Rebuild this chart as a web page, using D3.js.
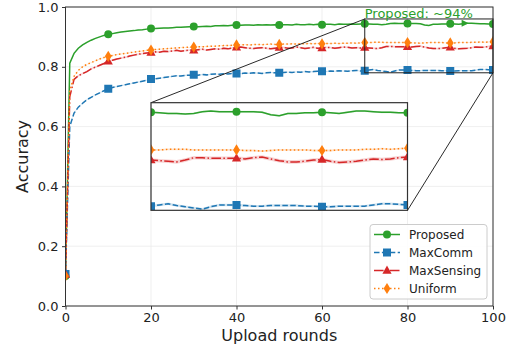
<!DOCTYPE html>
<html>
<head>
<meta charset="utf-8">
<script src="https://cdn.jsdelivr.net/npm/d3@7"></script>
<style>
  body { margin: 0; background: #fff; }
  text { font-family: "DejaVu Sans", sans-serif; }
</style>
</head>
<body>
<script>
'use strict';

// accuracy per upload round (0..100)
const rounds = d3.range(0, 101);

const proposed = [
  0.100, 0.812, 0.845, 0.862, 0.873, 0.882, 0.889, 0.895, 0.900, 0.905,
  0.909, 0.911, 0.914, 0.916, 0.918, 0.920, 0.921, 0.923, 0.924, 0.926,
  0.928, 0.928, 0.929, 0.930, 0.930, 0.931, 0.932, 0.932, 0.933, 0.934,
  0.935, 0.934, 0.935, 0.936, 0.935, 0.937, 0.937, 0.938, 0.937, 0.939,
  0.940, 0.939, 0.940, 0.940, 0.939, 0.941, 0.940, 0.941, 0.940, 0.941,
  0.940, 0.941, 0.941, 0.940, 0.942, 0.941, 0.941, 0.942, 0.941, 0.942,
  0.941, 0.942, 0.942, 0.941, 0.943, 0.942, 0.942, 0.943, 0.942, 0.943,
  0.944, 0.943, 0.942, 0.942, 0.941, 0.942, 0.945, 0.946, 0.945, 0.945,
  0.945, 0.945, 0.945, 0.944, 0.940, 0.938, 0.942, 0.942, 0.943, 0.943,
  0.944, 0.943, 0.942, 0.944, 0.946, 0.946, 0.945, 0.944, 0.944, 0.943,
  0.943
];

const maxComm = [
  0.107, 0.600, 0.645, 0.665, 0.678, 0.690, 0.698, 0.706, 0.713, 0.720,
  0.727, 0.731, 0.734, 0.737, 0.740, 0.743, 0.746, 0.749, 0.752, 0.755,
  0.759, 0.760, 0.762, 0.764, 0.766, 0.768, 0.770, 0.769, 0.771, 0.772,
  0.773, 0.772, 0.774, 0.773, 0.775, 0.776, 0.775, 0.777, 0.776, 0.778,
  0.778, 0.777, 0.779, 0.778, 0.780, 0.779, 0.778, 0.780, 0.781, 0.780,
  0.780, 0.781, 0.782, 0.781, 0.783, 0.782, 0.784, 0.783, 0.784, 0.785,
  0.785, 0.784, 0.786, 0.785, 0.787, 0.786, 0.785, 0.787, 0.788, 0.786,
  0.787, 0.789, 0.791, 0.788, 0.786, 0.784, 0.782, 0.786, 0.789, 0.789,
  0.789, 0.788, 0.787, 0.787, 0.788, 0.788, 0.788, 0.788, 0.787, 0.787,
  0.786, 0.786, 0.787, 0.787, 0.787, 0.787, 0.789, 0.791, 0.791, 0.790,
  0.789
];

const maxSensing = [
  0.105, 0.700, 0.758, 0.770, 0.777, 0.784, 0.793, 0.799, 0.805, 0.811,
  0.818, 0.822, 0.826, 0.829, 0.832, 0.836, 0.839, 0.842, 0.844, 0.846,
  0.848, 0.850, 0.849, 0.852, 0.851, 0.853, 0.855, 0.852, 0.854, 0.856,
  0.855, 0.857, 0.859, 0.856, 0.858, 0.860, 0.859, 0.862, 0.860, 0.863,
  0.865, 0.866, 0.864, 0.862, 0.861, 0.863, 0.864, 0.862, 0.860, 0.862,
  0.864, 0.865, 0.862, 0.863, 0.866, 0.864, 0.861, 0.863, 0.865, 0.862,
  0.863, 0.865, 0.864, 0.862, 0.864, 0.866, 0.865, 0.863, 0.864, 0.863,
  0.864, 0.863, 0.862, 0.861, 0.864, 0.868, 0.868, 0.867, 0.867, 0.867,
  0.867, 0.866, 0.868, 0.869, 0.866, 0.863, 0.861, 0.861, 0.862, 0.864,
  0.865, 0.862, 0.860, 0.861, 0.862, 0.864, 0.866, 0.865, 0.866, 0.868,
  0.869
];

const uniform = [
  0.100, 0.720, 0.768, 0.788, 0.800, 0.808, 0.814, 0.820, 0.826, 0.831,
  0.835, 0.838, 0.841, 0.843, 0.845, 0.847, 0.849, 0.851, 0.853, 0.855,
  0.856, 0.858, 0.859, 0.860, 0.861, 0.862, 0.863, 0.864, 0.865, 0.865,
  0.866, 0.867, 0.867, 0.868, 0.869, 0.869, 0.870, 0.871, 0.871, 0.872,
  0.873, 0.873, 0.874, 0.873, 0.874, 0.875, 0.874, 0.875, 0.876, 0.875,
  0.875, 0.876, 0.876, 0.877, 0.876, 0.877, 0.877, 0.878, 0.877, 0.878,
  0.877, 0.878, 0.878, 0.879, 0.878, 0.879, 0.879, 0.880, 0.879, 0.880,
  0.881, 0.881, 0.882, 0.882, 0.882, 0.881, 0.881, 0.881, 0.881, 0.881,
  0.881, 0.880, 0.880, 0.879, 0.880, 0.881, 0.881, 0.881, 0.881, 0.880,
  0.880, 0.880, 0.881, 0.881, 0.881, 0.882, 0.882, 0.883, 0.882, 0.883,
  0.884
];

// half width of the shaded spread around each curve
const proposedSpread = 0.0015;
const maxCommSpread = 0.002;
const maxSensingSpread = 0.003;
const uniformSpread = 0.0015;

const xTicks = [0, 20, 40, 60, 80, 100];
const yTicks = [0.0, 0.2, 0.4, 0.6, 0.8, 1.0];
const seriesNames = ["Proposed", "MaxComm", "MaxSensing", "Uniform"];
const annotationText = "Proposed: ~94%";

const series = [
  { name: seriesNames[0], values: proposed, spread: proposedSpread, color: "#2ca02c", dash: null, marker: "circle" },
  { name: seriesNames[1], values: maxComm, spread: maxCommSpread, color: "#1f77b4", dash: "5.5,2.4", marker: "square" },
  { name: seriesNames[2], values: maxSensing, spread: maxSensingSpread, color: "#d62728", dash: "9.6,2.4,1.5,2.4", marker: "triangle" },
  { name: seriesNames[3], values: uniform, spread: uniformSpread, color: "#ff7f0e", dash: "1.5,2.5", marker: "diamond" }
];

const width = 511, height = 353;
const plot = { left: 65.5, right: 493, top: 7, bottom: 306 };

const svg = d3.select("body").append("svg")
  .attr("width", width)
  .attr("height", height);

const x = d3.scaleLinear().domain([0, 100]).range([plot.left, plot.right]);
const y = d3.scaleLinear().domain([0, 1]).range([plot.bottom, plot.top]);

// marker shapes
function markerPath(kind) {
  if (kind === "circle") return d3.symbol(d3.symbolCircle, 50)();
  if (kind === "square") return "M-4,-4H4V4H-4Z";
  if (kind === "triangle") return "M0,-5L4.6,3.2L-4.6,3.2Z";
  return "M0,-5.6L3.4,0L0,5.6L-3.4,0Z";
}

const defs = svg.append("defs");
defs.append("clipPath").attr("id", "clip-main")
  .append("rect")
  .attr("x", plot.left).attr("y", plot.top)
  .attr("width", plot.right - plot.left).attr("height", plot.bottom - plot.top);

// grid
const grid = svg.append("g");
grid.selectAll(".gx").data(xTicks).enter().append("line")
  .attr("x1", d => x(d)).attr("x2", d => x(d))
  .attr("y1", plot.top).attr("y2", plot.bottom)
  .attr("stroke", "#ebebeb").attr("stroke-width", 0.8);
grid.selectAll(".gy").data(yTicks).enter().append("line")
  .attr("x1", plot.left).attr("x2", plot.right)
  .attr("y1", d => y(d)).attr("y2", d => y(d))
  .attr("stroke", "#ebebeb").attr("stroke-width", 0.8);

// draw the curves of all series into a group with the given scales
function drawSeries(g, xs, ys, markRounds) {
  series.forEach(s => {
    const pts = rounds.map((r, i) => ({ r: r, v: s.values[i] }));
    const area = d3.area()
      .x(d => xs(d.r))
      .y0(d => ys(d.v - s.spread))
      .y1(d => ys(d.v + s.spread));
    g.append("path").datum(pts)
      .attr("d", area)
      .attr("fill", s.color)
      .attr("fill-opacity", 0.2);
    const line = d3.line().x(d => xs(d.r)).y(d => ys(d.v));
    g.append("path").datum(pts)
      .attr("d", line)
      .attr("fill", "none")
      .attr("stroke", s.color)
      .attr("stroke-width", 1.5)
      .attr("stroke-dasharray", s.dash);
  });
  series.forEach(s => {
    g.selectAll(null)
      .data(markRounds)
      .enter()
      .append("path")
      .attr("d", markerPath(s.marker))
      .attr("transform", r => "translate(" + xs(r) + "," + ys(s.values[r]) + ")")
      .attr("fill", s.color);
  });
}

const main = svg.append("g").attr("clip-path", "url(#clip-main)");
drawSeries(main, x, y, d3.range(0, 101, 10));

// axes
const xAxis = d3.axisBottom(x).tickValues(xTicks).tickSize(3.5).tickPadding(3.5).tickFormat(d3.format("d"));
const yAxis = d3.axisLeft(y).tickValues(yTicks).tickSize(3.5).tickPadding(3.5).tickFormat(d3.format(".1f"));

svg.append("g")
  .attr("transform", "translate(0," + plot.bottom + ")")
  .call(xAxis)
  .call(g => g.select(".domain").remove())
  .call(g => g.selectAll("text").attr("font-size", 13).attr("fill", "#222").style("font-family", "DejaVu Sans"))
  .call(g => g.selectAll("line").attr("stroke", "#333"));

svg.append("g")
  .attr("transform", "translate(" + plot.left + ",0)")
  .call(yAxis)
  .call(g => g.select(".domain").remove())
  .call(g => g.selectAll("text").attr("font-size", 13).attr("fill", "#222").style("font-family", "DejaVu Sans"))
  .call(g => g.selectAll("line").attr("stroke", "#333"));

svg.append("rect")
  .attr("x", plot.left).attr("y", plot.top)
  .attr("width", plot.right - plot.left).attr("height", plot.bottom - plot.top)
  .attr("fill", "none").attr("stroke", "#333").attr("stroke-width", 1);

svg.append("text")
  .attr("x", (plot.left + plot.right) / 2)
  .attr("y", 341)
  .attr("text-anchor", "middle")
  .attr("font-size", 16)
  .attr("fill", "#222")
  .text("Upload rounds");

svg.append("text")
  .attr("transform", "translate(28," + ((plot.top + plot.bottom) / 2) + ") rotate(-90)")
  .attr("text-anchor", "middle")
  .attr("font-size", 16)
  .attr("fill", "#222")
  .text("Accuracy");

// zoomed inset
const zoomX = [70, 100], zoomY = [0.78, 0.96];
const inset = { left: x(20), right: x(80), top: y(0.68), bottom: y(0.32) };
const xi = d3.scaleLinear().domain(zoomX).range([inset.left, inset.right]);
const yi = d3.scaleLinear().domain(zoomY).range([inset.bottom, inset.top]);

defs.append("clipPath").attr("id", "clip-inset")
  .append("rect")
  .attr("x", inset.left).attr("y", inset.top)
  .attr("width", inset.right - inset.left).attr("height", inset.bottom - inset.top);

// region marked on the main axes and connector lines
svg.append("rect")
  .attr("x", x(zoomX[0])).attr("y", y(zoomY[1]))
  .attr("width", x(zoomX[1]) - x(zoomX[0])).attr("height", y(zoomY[0]) - y(zoomY[1]))
  .attr("fill", "none").attr("stroke", "#222").attr("stroke-width", 1);
svg.append("line")
  .attr("x1", inset.left).attr("y1", inset.top)
  .attr("x2", x(zoomX[0])).attr("y2", y(zoomY[1]))
  .attr("stroke", "#111").attr("stroke-width", 0.9);
svg.append("line")
  .attr("x1", inset.right).attr("y1", inset.bottom)
  .attr("x2", x(zoomX[1])).attr("y2", y(zoomY[0]))
  .attr("stroke", "#111").attr("stroke-width", 0.9);

const insetG = svg.append("g").attr("clip-path", "url(#clip-inset)");
drawSeries(insetG, xi, yi, [70, 80, 90, 100]);
svg.append("rect")
  .attr("x", inset.left).attr("y", inset.top)
  .attr("width", inset.right - inset.left).attr("height", inset.bottom - inset.top)
  .attr("fill", "none").attr("stroke", "#333").attr("stroke-width", 1.2);

// annotation
svg.append("text")
  .attr("x", x(70))
  .attr("y", 18)
  .attr("font-size", 13)
  .attr("fill", "#2ca02c")
  .text(annotationText);
const tipX = x(94.3), tipY = y(proposed[94]);
svg.append("path")
  .attr("d", "M" + tipX + "," + tipY + "l-7,-3.5v7Z")
  .attr("fill", "#2ca02c");

// legend
const legend = svg.append("g");
legend.append("rect")
  .attr("x", 370).attr("y", 224.5)
  .attr("width", 117).attr("height", 74.5)
  .attr("rx", 3)
  .attr("fill", "#fff").attr("fill-opacity", 0.85)
  .attr("stroke", "#ccc").attr("stroke-width", 1);

const rows = legend.selectAll(".row")
  .data(series)
  .enter()
  .append("g")
  .attr("transform", (d, i) => "translate(0," + (234.5 + i * 18) + ")");
rows.append("line")
  .attr("x1", 374).attr("x2", 400)
  .attr("stroke", d => d.color).attr("stroke-width", 1.5)
  .attr("stroke-dasharray", d => d.dash);
rows.append("path")
  .attr("d", d => markerPath(d.marker))
  .attr("transform", "translate(387,0)")
  .attr("fill", d => d.color);
rows.append("text")
  .attr("x", 409).attr("y", 4.3)
  .attr("font-size", 12)
  .attr("fill", "#222")
  .text(d => d.name);
</script>
</body>
</html>
